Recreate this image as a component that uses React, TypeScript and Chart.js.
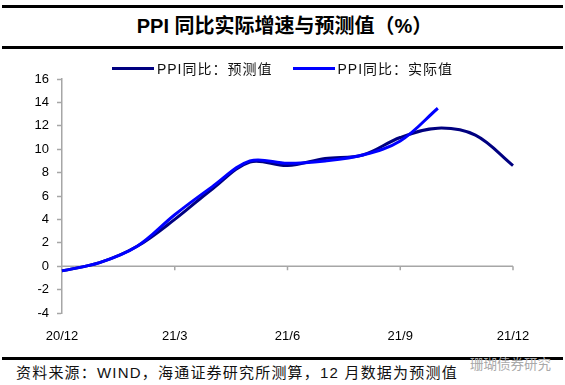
import React, { useEffect, useRef } from 'react';
import { Chart, registerables } from 'chart.js';

Chart.register(...registerables);

const categories = ['20/12', '21/1', '21/2', '21/3', '21/4', '21/5', '21/6', '21/7', '21/8', '21/9', '21/10', '21/11', '21/12'];
const forecastValues = [-0.4, 0.3, 1.7, 4.0, 6.6, 8.9, 8.6, 9.2, 9.5, 11.0, 11.8, 11.2, 8.6];
const actualValues = [-0.4, 0.3, 1.7, 4.4, 6.8, 9.0, 8.8, 9.0, 9.5, 10.7, 13.5];
const seriesNames = ['PPI同比：预测值', 'PPI同比：实际值'];
const seriesColors = ['#000080', '#0000FF'];
const yMin = -4;
const yMax = 16;
const yStep = 2;
const labelEvery = 3;

const FONT = '"Liberation Sans", Arial, "Noto Sans CJK SC", sans-serif';
const AXIS_GRAY = '#a6a6a6';

const zeroLinePlugin = {
  id: 'zeroLine',
  beforeDatasetsDraw(chart: any) {
    const { ctx, scales } = chart;
    const x = scales.x;
    const y = scales.y;
    const y0 = y.getPixelForValue(0);
    ctx.save();
    ctx.strokeStyle = AXIS_GRAY;
    ctx.lineWidth = 1.5;
    ctx.beginPath();
    ctx.moveTo(x.left, y0);
    ctx.lineTo(x.right, y0);
    categories.forEach((_, i) => {
      if (i > 0 && i % labelEvery === 0) {
        const px = x.getPixelForValue(i);
        ctx.moveTo(px, y0);
        ctx.lineTo(px, y0 + 4);
      }
    });
    ctx.stroke();
    ctx.restore();
  },
};

export default function App() {
  const canvasRef = useRef<HTMLCanvasElement | null>(null);

  useEffect(() => {
    if (!canvasRef.current) return;
    const chart = new Chart(canvasRef.current, {
      type: 'line',
      data: {
        labels: categories,
        datasets: [
          {
            label: seriesNames[0],
            data: forecastValues,
            borderColor: seriesColors[0],
            backgroundColor: seriesColors[0],
            borderWidth: 3,
            pointRadius: 0,
            tension: 0.35,
            fill: false,
            order: 1,
          },
          {
            label: seriesNames[1],
            data: actualValues,
            borderColor: seriesColors[1],
            backgroundColor: seriesColors[1],
            borderWidth: 3,
            pointRadius: 0,
            tension: 0.35,
            fill: false,
            order: 0,
          },
        ],
      },
      options: {
        responsive: true,
        maintainAspectRatio: false,
        animation: false,
        devicePixelRatio: 1,
        layout: { padding: { top: 29, right: 52, left: 0, bottom: 0 } },
        plugins: {
          legend: { display: false },
          tooltip: { enabled: false },
          title: { display: false },
        },
        scales: {
          x: {
            type: 'category',
            offset: false,
            grid: { display: false },
            border: { display: false },
            ticks: {
              autoSkip: false,
              maxRotation: 0,
              color: '#000',
              padding: 8,
              font: { size: 13, family: FONT },
              callback: (_v: any, i: number) => (i % labelEvery === 0 ? categories[i] : ''),
            },
            afterFit: (s: any) => {
              s.height = 37;
            },
          },
          y: {
            min: yMin,
            max: yMax,
            ticks: {
              stepSize: yStep,
              color: '#000',
              padding: 8,
              font: { size: 13, family: FONT },
            },
            grid: {
              drawOnChartArea: false,
              drawTicks: true,
              tickLength: 5,
              tickColor: AXIS_GRAY,
              tickWidth: 1.5,
            },
            border: { color: AXIS_GRAY, width: 1.5 },
            afterFit: (s: any) => {
              s.width = 62;
            },
          },
        },
      },
      plugins: [zeroLinePlugin],
    });
    return () => chart.destroy();
  }, []);

  const legendItem = (i: number) => (
    <div key={i} style={{ display: 'flex', alignItems: 'center', marginRight: i === 0 ? 20 : 0 }}>
      <span style={{ display: 'inline-block', width: 42, height: 3, background: seriesColors[i], marginRight: 3 }} />
      <span style={{ fontSize: 14, letterSpacing: 1, color: '#111', whiteSpace: 'nowrap' }}>{seriesNames[i]}</span>
    </div>
  );

  return (
    <div style={{ position: 'absolute', left: 0, top: 0, width: 565, height: 385, background: '#fff', fontFamily: FONT, overflow: 'hidden' }}>
      <div style={{ position: 'absolute', left: 2, top: 5, width: 561, height: 3, background: '#000' }} />
      <div style={{ position: 'absolute', left: 6, top: 12, width: 557, height: 28, lineHeight: '28px', textAlign: 'center', fontSize: 20, fontWeight: 'bold', color: '#000', whiteSpace: 'nowrap' }}>
        PPI 同比实际增速与预测值（%）
      </div>
      <div style={{ position: 'absolute', left: 2, top: 46, width: 561, height: 2.5, background: '#000' }} />
      <div style={{ position: 'absolute', left: 0, top: 50, width: 565, height: 300 }}>
        <canvas ref={canvasRef} />
      </div>
      <div style={{ position: 'absolute', left: 0, top: 58, width: 565, height: 20, display: 'flex', justifyContent: 'center', alignItems: 'center' }}>
        {legendItem(0)}
        {legendItem(1)}
      </div>
      <div style={{ position: 'absolute', left: 2, top: 357, width: 561, height: 2.5, background: '#000' }} />
      <div style={{ position: 'absolute', left: 470, top: 353, fontSize: 13.5, color: '#aaa', whiteSpace: 'nowrap' }}>珊瑚债券研究</div>
      <div style={{ position: 'absolute', left: 16, top: 361, fontSize: 15, color: '#111', whiteSpace: 'nowrap', letterSpacing: 1.2 }}>
        资料来源：WIND，海通证券研究所测算，12 月数据为预测值
      </div>
    </div>
  );
}
